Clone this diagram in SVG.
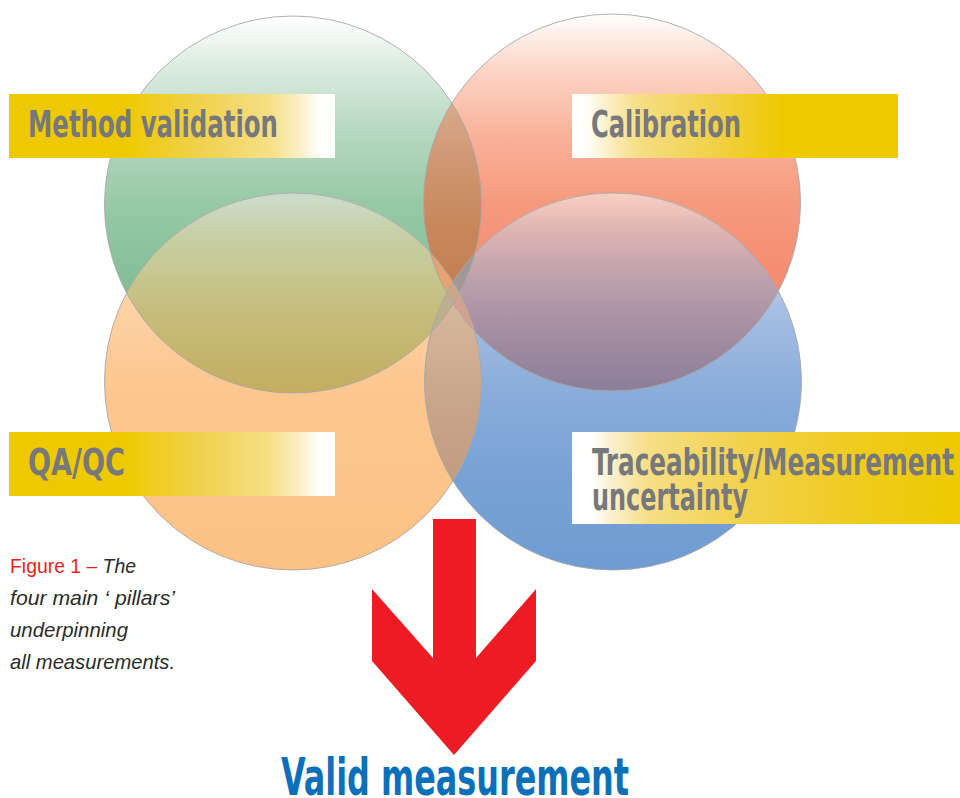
<svg xmlns="http://www.w3.org/2000/svg" width="960" height="798" viewBox="0 0 960 798">
<style>
.lbl{font-family:"Liberation Sans Narrow","DejaVu Sans Condensed","Liberation Sans",Arial,sans-serif;font-weight:bold;font-size:38px;fill:#77787B}
.res{font-family:"Liberation Sans Narrow","DejaVu Sans Condensed","Liberation Sans",Arial,sans-serif;font-weight:bold;font-size:51px;fill:#0B6FBA}
.cap{font-family:"Liberation Sans Narrow","Liberation Sans",Arial,sans-serif;font-size:21px;fill:#2B2B2B;font-style:italic}
.capred{fill:#ED1C24;font-style:normal}
.outline{fill:none;stroke:#A8A8A8;stroke-width:0.9}
</style>
<defs>
<linearGradient id="gradG" x1="0" y1="16" x2="0" y2="393" gradientUnits="userSpaceOnUse">
<stop offset="0" stop-color="#FFFFFF"/><stop offset="0.1" stop-color="#E4F0E7"/><stop offset="0.3" stop-color="#B7D8C1"/><stop offset="0.5" stop-color="#97C9A6"/><stop offset="0.75" stop-color="#7FBD95"/><stop offset="1" stop-color="#6FB388"/>
</linearGradient>
<linearGradient id="gradR" x1="0" y1="14" x2="0" y2="391" gradientUnits="userSpaceOnUse">
<stop offset="0" stop-color="#FFFFFF"/><stop offset="0.05" stop-color="#FEF0EA"/><stop offset="0.15" stop-color="#FCD5C6"/><stop offset="0.32" stop-color="#F9B29A"/><stop offset="0.5" stop-color="#F69A7E"/><stop offset="0.7" stop-color="#F48C70"/><stop offset="1" stop-color="#F3876A"/>
</linearGradient>
<linearGradient id="gradO" x1="0" y1="193" x2="0" y2="570" gradientUnits="userSpaceOnUse">
<stop offset="0" stop-color="#FEE8D0"/><stop offset="0.25" stop-color="#FDD5AA"/><stop offset="0.5" stop-color="#FCC790"/><stop offset="1" stop-color="#FCC283"/>
</linearGradient>
<linearGradient id="gradB" x1="0" y1="193" x2="0" y2="570" gradientUnits="userSpaceOnUse">
<stop offset="0" stop-color="#DCE6F5"/><stop offset="0.3" stop-color="#A8C0E3"/><stop offset="0.5" stop-color="#8CAEDB"/><stop offset="0.75" stop-color="#78A2D5"/><stop offset="1" stop-color="#6E9CD2"/>
</linearGradient>
<linearGradient id="gGO" x1="0" y1="193" x2="0" y2="393" gradientUnits="userSpaceOnUse">
<stop offset="0" stop-color="#CCDDCE"/><stop offset="0.2" stop-color="#C8D0A8"/><stop offset="0.4" stop-color="#C7C791"/><stop offset="0.55" stop-color="#C6BF80"/><stop offset="0.75" stop-color="#C5B771"/><stop offset="1" stop-color="#C3AD5F"/>
</linearGradient>
<linearGradient id="gRB" x1="0" y1="193" x2="0" y2="391" gradientUnits="userSpaceOnUse">
<stop offset="0" stop-color="#FAD0C2"/><stop offset="0.2" stop-color="#DDB3B1"/><stop offset="0.45" stop-color="#BB9FAC"/><stop offset="0.7" stop-color="#A48EA2"/><stop offset="1" stop-color="#8C7E99"/>
</linearGradient>
<linearGradient id="gGR" x1="0" y1="103" x2="0" y2="304" gradientUnits="userSpaceOnUse">
<stop offset="0" stop-color="#D8AA8C"/><stop offset="0.3" stop-color="#CF9672"/><stop offset="0.6" stop-color="#C8885C"/><stop offset="1" stop-color="#C37D4D"/>
</linearGradient>
<linearGradient id="gOB" x1="0" y1="281" x2="0" y2="482" gradientUnits="userSpaceOnUse">
<stop offset="0" stop-color="#D9BDA2"/><stop offset="0.3" stop-color="#D2B196"/><stop offset="0.6" stop-color="#C9A58A"/><stop offset="1" stop-color="#C29C80"/>
</linearGradient>
<linearGradient id="barL" x1="0" y1="0" x2="1" y2="0">
<stop offset="0" stop-color="#EEC900"/><stop offset="0.35" stop-color="#EEC900"/><stop offset="0.55" stop-color="#F1D043"/><stop offset="0.7" stop-color="#F3D86D"/><stop offset="0.8" stop-color="#F6DF86"/><stop offset="0.88" stop-color="#FAEDBD"/><stop offset="0.95" stop-color="#FFFEF8"/><stop offset="1" stop-color="#FFFFFF"/>
</linearGradient>
<linearGradient id="barR" x1="0" y1="0" x2="1" y2="0">
<stop offset="0" stop-color="#FFFFFF"/><stop offset="0.05" stop-color="#FFFEF8"/><stop offset="0.12" stop-color="#FAEDBD"/><stop offset="0.2" stop-color="#F6DF86"/><stop offset="0.3" stop-color="#F3D86D"/><stop offset="0.45" stop-color="#F1D043"/><stop offset="0.65" stop-color="#EEC900"/><stop offset="1" stop-color="#EEC900"/>
</linearGradient>
<linearGradient id="barT" x1="0" y1="0" x2="1" y2="0">
<stop offset="0" stop-color="#FFFFFF"/><stop offset="0.05" stop-color="#FFFFFF"/><stop offset="0.1" stop-color="#FBF0CE"/><stop offset="0.2" stop-color="#F6DE85"/><stop offset="0.45" stop-color="#F2D14B"/><stop offset="0.75" stop-color="#EFCB1C"/><stop offset="1" stop-color="#EEC900"/>
</linearGradient>
<clipPath id="cG"><circle cx="293" cy="204.5" r="188.5"/></clipPath>
<clipPath id="cR"><circle cx="612" cy="202.5" r="188.5"/></clipPath>
<clipPath id="cO"><circle cx="293" cy="381.5" r="188.5"/></clipPath>
<clipPath id="cB"><circle cx="613" cy="381.5" r="188.5"/></clipPath>
</defs>
<rect width="960" height="798" fill="#FFFFFF"/>
<g id="circles">
<circle cx="293" cy="204.5" r="188.5" fill="url(#gradG)"/>
<circle cx="612" cy="202.5" r="188.5" fill="url(#gradR)"/>
<circle cx="293" cy="381.5" r="188.5" fill="url(#gradO)"/>
<circle cx="613" cy="381.5" r="188.5" fill="url(#gradB)"/>
</g>
<g id="overlaps">
<g clip-path="url(#cG)"><rect x="0" y="0" width="960" height="798" clip-path="url(#cO)" fill="url(#gGO)"/></g>
<g clip-path="url(#cR)"><rect x="0" y="0" width="960" height="798" clip-path="url(#cB)" fill="url(#gRB)"/></g>
<g clip-path="url(#cG)"><rect x="0" y="0" width="960" height="798" clip-path="url(#cR)" fill="url(#gGR)"/></g>
<g clip-path="url(#cO)"><rect x="0" y="0" width="960" height="798" clip-path="url(#cB)" fill="url(#gOB)"/></g>
<g clip-path="url(#cG)"><g clip-path="url(#cR)"><rect x="0" y="0" width="960" height="798" clip-path="url(#cO)" fill="#E6A570"/></g></g>
<g clip-path="url(#cG)"><g clip-path="url(#cR)"><rect x="0" y="0" width="960" height="798" clip-path="url(#cB)" fill="#A39698"/></g></g>
<g clip-path="url(#cG)"><g clip-path="url(#cO)"><rect x="0" y="0" width="960" height="798" clip-path="url(#cB)" fill="#BEB08E"/></g></g>
<g clip-path="url(#cR)"><g clip-path="url(#cO)"><rect x="0" y="0" width="960" height="798" clip-path="url(#cB)" fill="#D3A28F"/></g></g>
<g clip-path="url(#cG)"><g clip-path="url(#cR)"><g clip-path="url(#cO)"><rect x="0" y="0" width="960" height="798" clip-path="url(#cB)" fill="#CBA78A"/></g></g></g>
</g>
<g id="outlines">
<circle class="outline" cx="293" cy="204.5" r="188.5"/>
<circle class="outline" cx="612" cy="202.5" r="188.5"/>
<circle class="outline" cx="293" cy="381.5" r="188.5"/>
<circle class="outline" cx="613" cy="381.5" r="188.5"/>
</g>
<g id="node-method-validation">
<rect x="9" y="94" width="326" height="64" fill="url(#barL)"/>
<text class="lbl" x="28" y="137" textLength="250" lengthAdjust="spacingAndGlyphs">Method validation</text>
</g>
<g id="node-calibration">
<rect x="572" y="94" width="326" height="64" fill="url(#barR)"/>
<text class="lbl" x="591" y="137" textLength="150" lengthAdjust="spacingAndGlyphs">Calibration</text>
</g>
<g id="node-qaqc">
<rect x="9" y="432" width="326" height="64" fill="url(#barL)"/>
<text class="lbl" x="28" y="475" textLength="97" lengthAdjust="spacingAndGlyphs">QA/QC</text>
</g>
<g id="node-traceability">
<rect x="572" y="432" width="388" height="92" fill="url(#barT)"/>
<text class="lbl" x="592" y="475" textLength="362" lengthAdjust="spacingAndGlyphs">Traceability/Measurement</text>
<text class="lbl" x="592" y="510" textLength="156" lengthAdjust="spacingAndGlyphs">uncertainty</text>
</g>
<g id="connectors">
<polygon points="433,519 476,519 476,658 536,589 536,661 454,755 372,661 372,589 433,658" fill="#ED1C24"/>
</g>
<g id="node-valid-measurement">
<text class="res" x="281" y="795" textLength="348" lengthAdjust="spacingAndGlyphs">Valid measurement</text>
</g>
<g id="caption">
<text class="cap" x="10" y="573" textLength="126" lengthAdjust="spacingAndGlyphs"><tspan class="capred">Figure 1 – </tspan>The</text>
<text class="cap" x="10" y="605" textLength="165" lengthAdjust="spacingAndGlyphs">four main ‘ pillars’</text>
<text class="cap" x="10" y="637" textLength="118" lengthAdjust="spacingAndGlyphs">underpinning</text>
<text class="cap" x="10" y="669" textLength="165" lengthAdjust="spacingAndGlyphs">all measurements.</text>
</g>
</svg>
